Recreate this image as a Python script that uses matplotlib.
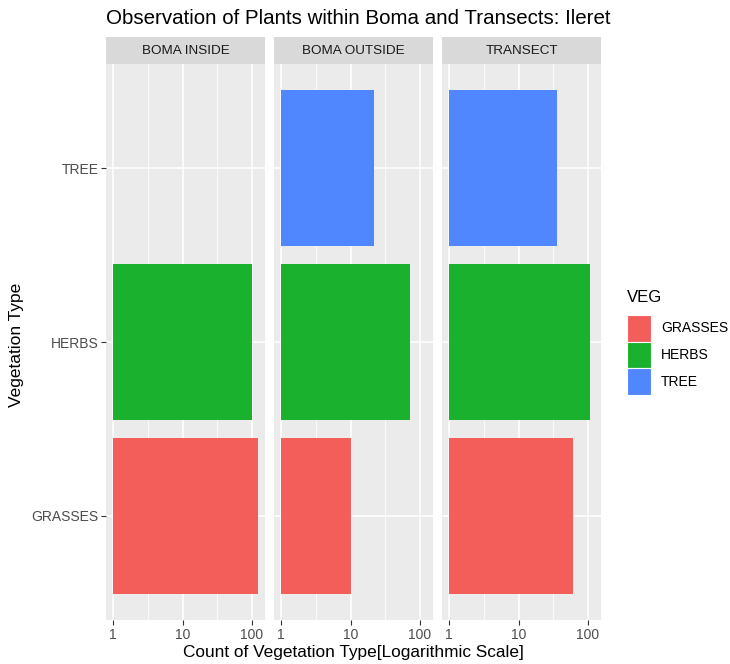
import matplotlib as mpl
mpl.use("Agg")
import matplotlib.pyplot as plt
from matplotlib.patches import Rectangle
import numpy as np

# counts per vegetation type in each sampling site
sites = ["BOMA INSIDE", "BOMA OUTSIDE", "TRANSECT"]
veg = ["GRASSES", "HERBS", "TREE"]
grasses = [122, 10, 61]
herbs = [100, 71, 107]
tree = [0, 22, 36]

COLORS = ["#F35E5A", "#1AB12E", "#5087FF"]
BG = "#EBEBEB"

mpl.rcParams["font.family"] = ["Liberation Sans", "DejaVu Sans"]

W, H = 730, 664
fig = plt.figure(figsize=(W / 100, H / 100), dpi=100)

panel_x = [(106, 265), (274, 433), (442, 601)]
p_top, p_bot = 64, 620
s_top = 37

counts = np.array([grasses, herbs, tree])  # rows = veg, cols = site
lo = 10 ** -0.104
hi = 10 ** 2.19

for j, (x0, x1) in enumerate(panel_x):
    ax = fig.add_axes([x0 / W, 1 - p_bot / H, (x1 - x0) / W, (p_bot - p_top) / H])
    ax.set_facecolor(BG)
    ax.set_xscale("log")
    ax.set_xlim(lo, hi)
    ax.set_ylim(0.4, 3.6)
    for i in range(3):
        v = counts[i, j]
        if v > 0:
            ax.barh(i + 1, v - 1, left=1, height=0.9, color=COLORS[i], zorder=3)
    # grid lines
    for t in [1, 10, 100]:
        ax.axvline(t, color="white", lw=1.1, zorder=1)
    for t in [10 ** 0.5, 10 ** 1.5]:
        ax.axvline(t, color="white", lw=0.55, zorder=1)
    for yv in [1, 2, 3]:
        ax.axhline(yv, color="white", lw=1.1, zorder=1)
    for s in ax.spines.values():
        s.set_visible(False)
    ax.set_xticks([1, 10, 100])
    ax.set_xticklabels(["1", "10", "100"])
    ax.xaxis.set_minor_locator(mpl.ticker.NullLocator())
    ax.tick_params(axis="both", colors="#333333", labelcolor="#4D4D4D",
                   labelsize=10, length=3.5, width=0.8, pad=2)
    ax.set_yticks([1, 2, 3])
    if j == 0:
        ax.set_yticklabels(veg)
    else:
        ax.set_yticks([])

    # facet strip
    sax = fig.add_axes([x0 / W, 1 - p_top / H, (x1 - x0) / W, (p_top - s_top) / H])
    sax.set_facecolor("#D9D9D9")
    sax.set_xticks([])
    sax.set_yticks([])
    for s in sax.spines.values():
        s.set_visible(False)
    sax.text(0.5, 0.5, sites[j], ha="center", va="center", fontsize=9.7,
             color="#1A1A1A", transform=sax.transAxes)

fig.text(106 / W, 1 - 18 / H, "Observation of Plants within Boma and Transects: Ileret",
         ha="left", va="center", fontsize=14.8, color="black")
fig.text(353 / W, 1 - 653 / H, "Count of Vegetation Type[Logarithmic Scale]",
         ha="center", va="center", fontsize=12.4, color="black")
fig.text(17 / W, 1 - 345 / H, "Vegetation Type", rotation=90,
         ha="center", va="center", fontsize=12.5, color="black")

# legend, laid out in pixel coordinates
fig.text(627 / W, 1 - 298 / H, "VEG", ha="left", va="center",
         fontsize=12, color="black")
key_top = 315
for i, (name, c) in enumerate(zip(veg, COLORS)):
    y0 = key_top + i * 26.7
    fig.add_artist(Rectangle((627 / W, 1 - (y0 + 26.7) / H), 24 / W, 26.7 / H,
                             transform=fig.transFigure, facecolor=c,
                             edgecolor="white", lw=0.8))
    fig.text(661 / W, 1 - (y0 + 13.3) / H, name, ha="left", va="center",
             fontsize=10, color="black")

fig.savefig("out.png", dpi=100, facecolor="white")
